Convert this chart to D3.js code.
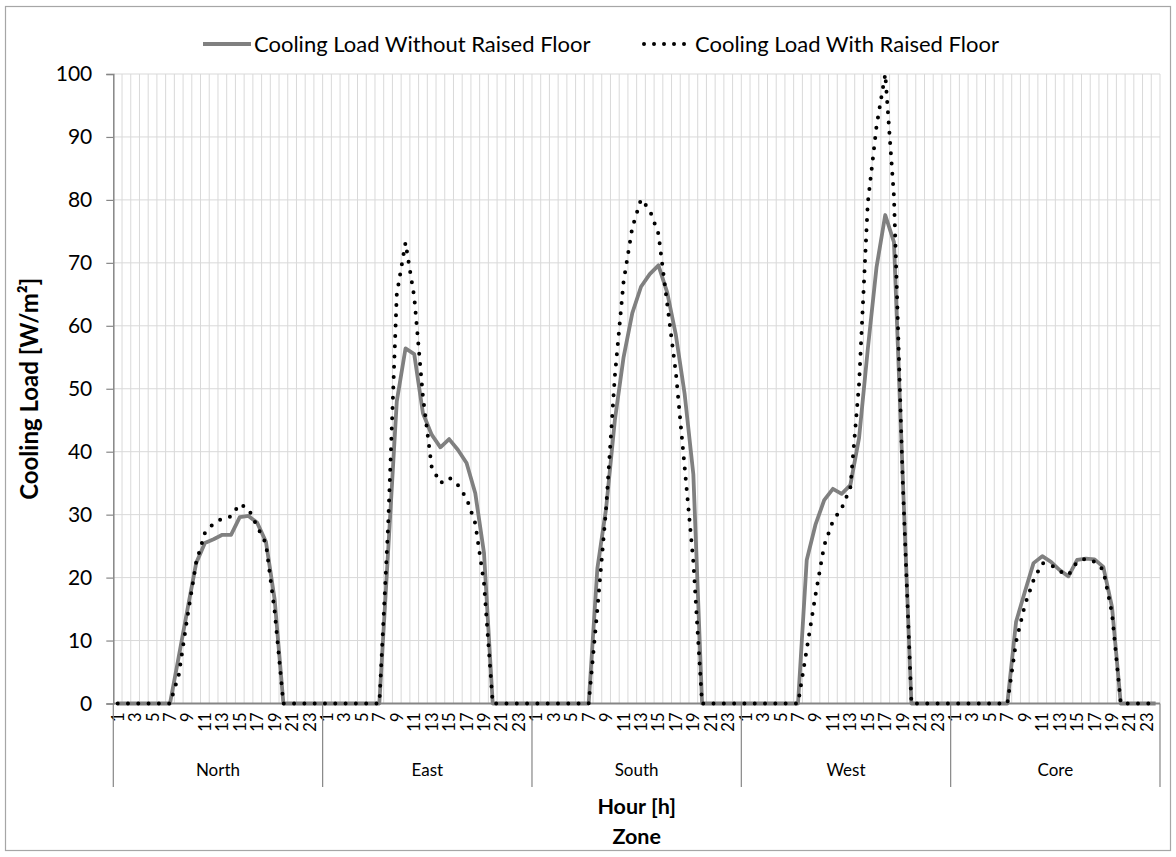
<!DOCTYPE html>
<html><head><meta charset="utf-8">
<script src="https://cdn.jsdelivr.net/npm/d3@7"></script>
<style>
body{margin:0;background:#fff}
svg{display:block}
text{font-family:Lato,"Open Sans",sans-serif;fill:#000}
</style>
</head><body>
<svg id="chart" width="1176" height="857"></svg>
<script>
// ---------- data ----------
const zones = ["North", "East", "South", "West", "Core"];
const hours = [1,2,3,4,5,6,7,8,9,10,11,12,13,14,15,16,17,18,19,20,21,22,23,24];
const hourTickLabels = ["1","3","5","7","9","11","13","15","17","19","21","23"];
const yTicks = [0,10,20,30,40,50,60,70,80,90,100];
const seriesNames = ["Cooling Load Without Raised Floor", "Cooling Load With Raised Floor"];

const withoutNorth = [0,0,0,0,0,0,0, 7.4,14.9,22.3,25.5,26.1,26.8,26.8,29.6,29.8,28.7,25.7,16.5, 0,0,0,0,0];
const withNorth    = [0,0,0,0,0,0,0, 4.5,13.8,22.4,27.1,28.6,29.4,29.7,31.7,30.9,28.1,25.4,14.6, 0,0,0,0,0];
const withoutEast  = [0,0,0,0,0,0,0, 24,48,56.4,55.5,46.1,42.7,40.7,42.0,40.3,38.2,33.4,23.9, 0,0,0,0,0];
const withEast     = [0,0,0,0,0,0,0, 28,65,73.2,64.6,48.7,37.6,35.0,35.9,34.7,32.6,28.6,19.1, 0,0,0,0,0];
const withoutSouth = [0,0,0,0,0,0,0, 21.5,31,45,55,62,66.2,68.2,69.6,65.3,58.5,49.2,36.4, 0,0,0,0,0];
const withSouth    = [0,0,0,0,0,0,0, 15,31,52,67,75.6,80.1,78.4,74.6,63.5,52.5,37.6,22.5, 0,0,0,0,0];
const withoutWest  = [0,0,0,0,0,0,0, 22.8,28.4,32.3,34.1,33.3,34.7,42.2,56.3,69.3,77.6,73.3,36.3, 0,0,0,0,0];
const withWest     = [0,0,0,0,0,0,0, 8.6,17.2,25.1,29.0,31.0,34.3,50.8,79.5,91.7,100,80.5,35.5, 0,0,0,0,0];
const withoutCore  = [0,0,0,0,0,0,0, 13.0,17.7,22.3,23.4,22.5,21.2,20.2,22.8,23.0,22.9,21.7,15.3, 0,0,0,0,0];
const withCore     = [0,0,0,0,0,0,0, 9.8,15.6,19.6,22.3,22.0,21.0,20.4,22.5,23.0,22.5,21.2,14.3, 0,0,0,0,0];

(function () {
// ---------- build ----------
const withoutAll = [withoutNorth, withoutEast, withoutSouth, withoutWest, withoutCore];
const withAll = [withNorth, withEast, withSouth, withWest, withCore];
const cats = [];
zones.forEach((z, zi) => hours.forEach((h, hi) => cats.push({z, zi, h, hi, key: z + "-" + h,
  a: withoutAll[zi][hi], b: withAll[zi][hi]})));

const svg = d3.select("#chart");
const pLeft = 113.3, pRight = 1160, pTop = 74, pBottom = 703.5;

const x = d3.scaleBand().domain(cats.map(d => d.key)).range([pLeft, pRight]).padding(0);
const y = d3.scaleLinear().domain([0, 100]).range([pBottom, pTop]);
const bw = x.bandwidth();
const cx = k => x(k) + bw / 2;

// chart border
svg.append("rect").attr("x", 5.5).attr("y", 6.5).attr("width", 1165).attr("height", 844)
  .attr("fill", "#fff").attr("stroke", "#a6a6a6").attr("stroke-width", 1.2);

// gridlines
const grid = svg.append("g");
grid.selectAll("line.h").data(yTicks.filter(t => t > 0)).join("line")
  .attr("x1", pLeft).attr("x2", pRight).attr("y1", d => y(d)).attr("y2", d => y(d))
  .attr("stroke", "#d9d9d9").attr("stroke-width", 1);
const edges = cats.map(d => x(d.key)).concat([pRight]);
grid.selectAll("line.v").data(edges.slice(1)).join("line")
  .attr("x1", d => d).attr("x2", d => d).attr("y1", pTop).attr("y2", pBottom)
  .attr("stroke", "#d9d9d9").attr("stroke-width", 1);

// y axis
const yAxis = svg.append("g").attr("transform", `translate(${pLeft},0)`)
  .call(d3.axisLeft(y).tickValues(yTicks).tickSize(7).tickPadding(14));
yAxis.select(".domain").attr("stroke", "#868686").attr("stroke-width", 1.5);
yAxis.selectAll(".tick line").attr("stroke", "#868686").attr("stroke-width", 1.2);
yAxis.selectAll(".tick text").style("font-family", "Lato").style("font-size", "21px").attr("fill", "#000");

// x axis (hour labels)
const xAxis = svg.append("g").attr("transform", `translate(0,${pBottom})`)
  .call(d3.axisBottom(x).tickValues(cats.filter(d => hourTickLabels.includes(String(d.h))).map(d => d.key))
    .tickSize(0).tickFormat(k => k.split("-")[1]));
xAxis.select(".domain").remove();
xAxis.selectAll(".tick text")
  .attr("transform", "rotate(-90)").attr("x", -9).attr("y", 0).attr("dy", "0.36em")
  .attr("text-anchor", "end").style("font-family", "Lato").style("font-size", "16.5px").attr("fill", "#000");

// x axis line
svg.append("line").attr("x1", pLeft).attr("x2", pRight).attr("y1", pBottom).attr("y2", pBottom)
  .attr("stroke", "#868686").attr("stroke-width", 1.8);

// zone separators and labels
const zoneEdges = zones.map(z => x(z + "-1")).concat([pRight]);
svg.selectAll("line.zsep").data(zoneEdges).join("line")
  .attr("x1", d => d).attr("x2", d => d).attr("y1", pBottom).attr("y2", 787)
  .attr("stroke", "#868686").attr("stroke-width", 1.2);
svg.selectAll("text.zone").data(zones).join("text")
  .attr("x", (d, i) => (zoneEdges[i] + zoneEdges[i + 1]) / 2).attr("y", 770).attr("dy", "0.35em")
  .attr("text-anchor", "middle").style("font-size", "17px").text(d => d);

// axis titles
svg.append("text").attr("x", (pLeft + pRight) / 2).attr("y", 806).attr("dy", "0.35em")
  .attr("text-anchor", "middle").style("font-size", "21.5px").style("font-weight", "bold").text("Hour [h]");
svg.append("text").attr("x", (pLeft + pRight) / 2).attr("y", 836).attr("dy", "0.35em")
  .attr("text-anchor", "middle").style("font-size", "21.5px").style("font-weight", "bold").text("Zone");
svg.append("text").attr("transform", `translate(30,${(pTop + pBottom) / 2}) rotate(-90)`).attr("dy", "0.35em")
  .attr("text-anchor", "middle").style("font-size", "24px").style("font-weight", "bold").text("Cooling Load [W/m²]");

// lines
const lineA = d3.line().x(d => cx(d.key)).y(d => y(d.a));
const lineB = d3.line().x(d => cx(d.key)).y(d => y(d.b));
svg.append("path").datum(cats).attr("d", lineA).attr("fill", "none")
  .attr("stroke", "#808080").attr("stroke-width", 3.8).attr("stroke-linejoin", "round");
svg.append("path").datum(cats).attr("d", lineB).attr("fill", "none")
  .attr("stroke", "#000").attr("stroke-width", 4).attr("stroke-linecap", "round")
  .attr("stroke-dasharray", "0 10.3");

// legend
const lg = svg.append("g");
lg.append("line").attr("x1", 203).attr("x2", 251).attr("y1", 44).attr("y2", 44)
  .attr("stroke", "#808080").attr("stroke-width", 3.8);
lg.append("text").attr("x", 254).attr("y", 44).attr("dy", "0.35em").style("font-size", "22px").text(seriesNames[0]);
lg.append("line").attr("x1", 644).attr("x2", 690).attr("y1", 44).attr("y2", 44)
  .attr("stroke", "#000").attr("stroke-width", 4).attr("stroke-linecap", "round").attr("stroke-dasharray", "0 10");
lg.append("text").attr("x", 695).attr("y", 44).attr("dy", "0.35em").style("font-size", "22px").text(seriesNames[1]);
})();
</script>
</body></html>
